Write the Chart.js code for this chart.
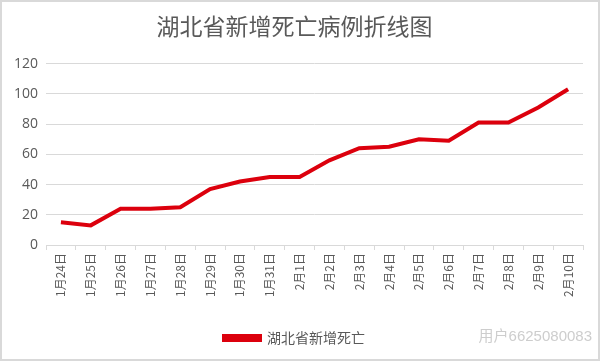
<!DOCTYPE html>
<html>
<head>
<meta charset="utf-8">
<script src="https://cdn.jsdelivr.net/npm/chart.js@4"></script>
<style>
  body { margin: 0; background: #fff; }
  #wrap { width: 596px; height: 357px; border: 2px solid #d9d9d9; }
</style>
</head>
<body>
<div id="wrap"><canvas id="deathChart" width="596" height="357"></canvas></div>
<script>
var dates = ['1月24日', '1月25日', '1月26日', '1月27日', '1月28日', '1月29日', '1月30日', '1月31日', '2月1日',
    '2月2日', '2月3日', '2月4日', '2月5日', '2月6日', '2月7日', '2月8日', '2月9日', '2月10日'];
var newDeaths = [15, 13, 24, 24, 25, 37, 42, 45, 45, 56, 64, 65, 70, 69, 81, 81, 91, 103];
var yTicks = [0, 20, 40, 60, 80, 100, 120];

var cjk = '"Noto Sans CJK SC", sans-serif';

// weibo style watermark at the bottom right
var watermark = {
    id: 'watermark',
    afterDraw: function (chart) {
        var c = chart.ctx;
        c.save();
        c.font = '15px "Liberation Sans", ' + cjk;
        c.fillStyle = 'rgba(200,200,200,0.9)';
        c.textAlign = 'right';
        c.textBaseline = 'middle';
        c.fillText('用户6625080083', 590, 335);
        c.restore();
    }
};

var ctx = document.getElementById('deathChart').getContext('2d');
var deathChart = new Chart(ctx, {
    type: 'line',
    data: {
        labels: dates,
        datasets: [{
            label: '湖北省新增死亡',
            data: newDeaths,
            borderColor: '#dc000d',
            backgroundColor: '#dc000d',
            borderWidth: 4,
            pointRadius: 0,
            tension: 0
        }]
    },
    options: {
        responsive: false,
        animation: false,
        layout: { padding: { left: 4, right: 15, top: 0, bottom: 4 } },
        plugins: {
            title: {
                display: true,
                text: '湖北省新增死亡病例折线图',
                color: '#595959',
                font: { family: cjk, size: 23, weight: 'normal' },
                padding: { top: 10, bottom: 24 }
            },
            legend: {
                position: 'bottom',
                labels: {
                    color: '#595959',
                    font: { family: cjk, size: 14 },
                    boxWidth: 36,
                    boxHeight: 4,
                    padding: 16
                }
            },
            tooltip: { enabled: false }
        },
        scales: {
            x: {
                offset: true,
                afterFit: function (axis) { axis.height += 15; },
                grid: { offset: true, drawOnChartArea: false, drawTicks: true, tickLength: 5, color: '#d9d9d9' },
                border: { color: '#d9d9d9' },
                ticks: {
                    color: '#595959',
                    font: { family: cjk, size: 12 },
                    maxRotation: 90,
                    minRotation: 90,
                    padding: 3
                }
            },
            y: {
                min: 0,
                max: 120,
                afterBuildTicks: function (axis) {
                    axis.ticks = yTicks.map(function (v) { return { value: v }; });
                },
                grid: { color: '#d9d9d9', drawTicks: false },
                border: { display: false },
                ticks: {
                    color: '#595959',
                    font: { family: '"Open Sans", sans-serif', size: 14 },
                    padding: 8
                }
            }
        }
    },
    plugins: [watermark]
});
</script>
</body>
</html>
